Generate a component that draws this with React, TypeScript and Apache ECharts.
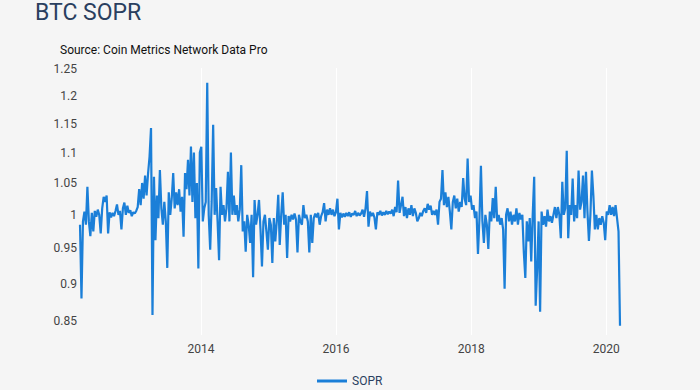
import React, { useEffect, useRef } from "react";
import * as echarts from "echarts";

const startDate = Date.UTC(2012, 2, 18);
const stepDays = 8;

const sopr: number[] = [
  0.985, 0.88, 0.99, 1.005, 0.985, 1.044, 0.99, 0.968, 1.003, 0.975,
  1.006, 0.997, 1.008, 1.0, 0.972, 1.01, 1.028, 1.02, 1.03, 0.972,
  1.004, 0.996, 1.003, 0.998, 1.006, 1.016, 1.0, 1.006, 0.978, 1.01,
  1.019, 1.0, 1.014, 1.003, 1.007, 0.998, 1.004, 1.002, 1.006, 1.012,
  1.04, 1.015, 1.05, 1.025, 1.062, 1.03, 1.065, 1.093, 1.142, 0.858,
  1.06, 0.962, 1.03, 0.995, 1.071, 1.01, 0.985, 1.02, 0.99, 0.922,
  1.035, 1.0, 1.025, 1.066, 1.01, 1.035, 1.015, 1.04, 1.005, 1.028,
  0.967, 1.066, 1.04, 1.088, 1.03, 1.11, 1.02, 1.1, 0.995, 1.05,
  0.921, 1.1, 1.11, 0.99, 1.01, 1.02, 1.224, 1.0, 0.948, 1.02,
  1.148, 1.0, 1.042, 0.99, 0.933, 1.044, 1.0, 1.015, 0.99, 1.01,
  1.068, 0.99, 1.1, 1.0, 1.03, 1.0, 1.015, 0.99, 1.008, 1.079,
  0.975, 0.99, 0.945, 1.0, 0.985, 0.958, 1.0, 0.909, 1.023, 0.985,
  1.0, 1.023, 0.978, 0.924, 0.99, 1.0, 0.975, 0.948, 0.995, 0.985,
  0.929, 0.995, 0.96, 0.99, 1.031, 0.955, 1.0, 1.035, 0.985, 1.0,
  0.936, 0.998, 0.99, 1.0, 0.993, 1.002, 0.993, 0.944, 1.0, 0.99,
  0.985, 1.015, 0.995, 1.0, 0.99, 0.944, 1.0, 0.958, 0.995, 1.002,
  0.996, 1.003, 0.985, 0.998, 1.004, 1.018, 0.99, 1.008, 1.0, 1.01,
  1.0, 1.008, 0.998, 1.004, 1.025, 0.978, 1.003, 0.996, 1.002, 0.997,
  1.003, 0.998, 1.004, 0.997, 1.002, 1.0, 1.006, 0.998, 1.003, 0.999,
  1.002, 1.008, 0.997, 1.01, 1.037, 0.982, 1.005, 0.998, 1.003, 0.996,
  0.978, 1.004, 1.0, 1.006, 0.999, 1.004, 1.0, 1.006, 1.001, 1.005,
  1.002, 1.008, 0.998, 1.012, 1.004, 1.054, 1.003, 1.015, 1.028, 0.998,
  1.012, 0.995, 1.01, 1.0, 1.015, 0.998, 1.01, 1.003, 0.99, 0.995,
  1.003, 0.998, 1.006, 1.01, 1.003, 1.017, 1.008, 1.014, 1.0, 1.006,
  1.0, 1.008, 0.985, 1.02, 1.025, 1.071, 1.015, 1.035, 1.012, 1.028,
  1.005, 0.978, 1.02, 1.03, 1.01, 1.025, 1.005, 1.02, 1.012, 1.058,
  1.025, 1.015, 1.09, 1.02, 1.03, 1.008, 1.015, 0.995, 1.005, 0.942,
  0.995, 1.078, 0.99, 0.958, 1.0, 0.985, 0.949, 1.005, 0.99, 1.026,
  0.995, 1.044, 0.99, 1.0, 0.985, 0.995, 0.978, 0.893, 1.0, 1.01,
  0.99, 1.005, 0.985, 1.0, 0.99, 1.01, 0.985, 1.003, 0.993, 1.0,
  0.944, 0.908, 0.99, 0.96, 0.995, 0.931, 1.0, 1.06, 0.87, 0.92,
  0.99, 0.862, 1.005, 0.985, 0.998, 0.982, 1.008, 0.99, 0.998, 0.988,
  1.0, 1.012, 0.995, 1.012, 1.0, 0.965, 1.052, 1.0, 1.01, 1.103,
  0.965, 1.015, 1.0, 1.057, 0.99, 1.015, 0.995, 1.07, 1.008, 1.02,
  1.062, 0.995, 1.068, 1.005, 0.961, 1.0, 1.07, 1.03, 0.978, 1.0,
  0.978, 0.995, 0.985, 0.998, 0.988, 0.962, 1.005, 1.0, 1.015, 1.0,
  1.012, 0.998, 1.015, 0.995, 0.975, 0.844,
];

const yTicks: number[] = [0.85, 0.9, 0.95, 1, 1.05, 1.1, 1.15, 1.2, 1.25];
const xTickYears: number[] = [2014, 2016, 2018, 2020];

const FONT = "Roboto, 'Liberation Sans', sans-serif";

export default function App() {
  const ref = useRef<HTMLDivElement>(null);
  useEffect(() => {
    if (!ref.current) return;
    const chart = echarts.init(ref.current, undefined, { renderer: "svg" });
    const data = sopr.map((v, i) => [startDate + i * stepDays * 86400000, v]);
    const xTicks = xTickYears.map((y) => Date.UTC(y, 0, 1));
    chart.setOption({
      animation: false,
      backgroundColor: "#f5f5f5",
      textStyle: { fontFamily: FONT },
      title: [
        {
          text: "BTC SOPR",
          left: 35,
          top: 1,
          padding: 0,
          textStyle: { fontSize: 23, fontWeight: "normal", color: "#2a3f5f", fontFamily: FONT },
        },
        {
          text: "Source: Coin Metrics Network Data Pro",
          left: 60,
          top: 44,
          padding: 0,
          textStyle: { fontSize: 12, fontWeight: "normal", color: "#111", fontFamily: FONT },
        },
      ],
      legend: {
        left: 317,
        top: 375,
        padding: 0,
        icon: "rect",
        itemWidth: 30,
        itemHeight: 3,
        itemGap: 5,
        textStyle: { fontSize: 12, color: "#2a3f5f", fontFamily: FONT },
        data: ["SOPR"],
      },
      grid: { left: 80, right: 80, top: 68, bottom: 55, containLabel: false },
      xAxis: {
        type: "value",
        min: data[0][0],
        max: data[data.length - 1][0],
        axisLine: { show: false },
        axisTick: { show: false, customValues: xTicks },
        axisLabel: {
          customValues: xTicks,
          margin: 8,
          fontSize: 12,
          color: "#444",
          fontFamily: FONT,
          formatter: (v: number) => String(new Date(v).getUTCFullYear()),
        },
        splitLine: { show: true, lineStyle: { color: "#ffffff", width: 1 } },
      },
      yAxis: {
        type: "log",
        logBase: 10,
        min: 0.832,
        max: 1.252,
        axisLine: { show: false },
        axisTick: { show: false, customValues: yTicks },
        axisLabel: {
          customValues: yTicks,
          margin: 3,
          fontSize: 12,
          color: "#444",
          fontFamily: FONT,
          formatter: (v: number) => String(+Number(v).toFixed(2)),
        },
        splitLine: { show: false },
      },
      series: [
        {
          name: "SOPR",
          type: "line",
          data,
          showSymbol: false,
          symbol: "none",
          lineStyle: { color: "#1b7fd8", width: 2.2 },
          itemStyle: { color: "#1b7fd8" },
        },
      ],
    });
    return () => chart.dispose();
  }, []);
  return (
    <div
      ref={ref}
      style={{ position: "fixed", left: 0, top: 0, width: 700, height: 390, background: "#f5f5f5" }}
    />
  );
}
